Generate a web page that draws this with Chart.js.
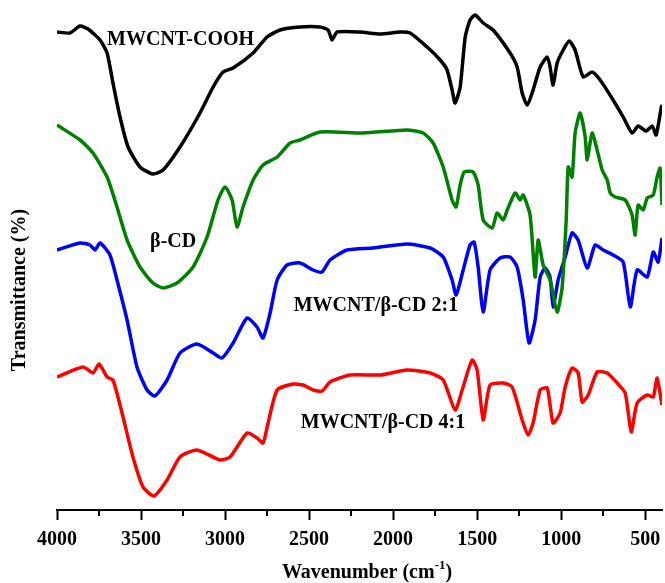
<!DOCTYPE html>
<html lang="en">
<head>
    <meta charset="UTF-8">
    <title>FTIR spectra</title>
    <script src="https://cdn.jsdelivr.net/npm/chart.js"></script>
    <style>
        html, body { margin: 0; padding: 0; background: #fff; }
        canvas { display: block; }
    </style>
</head>
<body>
    <canvas id="ftirChart" width="665" height="583"></canvas>
    <script>
        // wavenumbers (cm-1) and transmittance (arbitrary, offset) per sample
        const coohWn = [4000, 3923, 3863, 3815, 3744, 3702, 3667, 3625, 3577, 3506, 3429, 3369, 3268, 3149, 3071, 3012, 2952, 2833, 2750, 2673, 2554, 2435, 2387, 2363, 2333, 2196, 2077, 1958, 1899, 1798, 1720, 1679, 1649, 1631, 1601, 1571, 1542, 1512, 1464, 1405, 1304, 1262, 1232, 1202, 1167, 1125, 1083, 1066, 1048, 1024, 988, 952, 917, 869, 816, 768, 691, 631, 578, 542, 494, 458, 435, 405, 400];
        const coohT = [95.6, 95.4, 96.8, 96.2, 94, 91.4, 85.4, 78.6, 72.6, 68.6, 67.2, 68, 72.6, 79.4, 84.6, 87.6, 88.4, 91.4, 94.6, 96, 96.6, 96.6, 96, 94, 95.6, 95.6, 95.2, 95.6, 95.4, 92.6, 90, 88, 84, 81.4, 84.6, 94.6, 98, 99, 97.4, 96, 91.4, 88.6, 83.4, 81, 84, 88.6, 90.6, 88.6, 85, 89.4, 92, 93.8, 92, 86.6, 87.6, 86, 82, 78.6, 75.4, 76.8, 75.8, 76.8, 75, 80.4, 81];

        const cdWn = [4000, 3863, 3786, 3702, 3643, 3583, 3506, 3429, 3369, 3286, 3190, 3107, 3042, 3000, 2958, 2929, 2893, 2833, 2774, 2690, 2613, 2554, 2435, 2179, 1917, 1821, 1762, 1702, 1649, 1625, 1601, 1577, 1524, 1494, 1464, 1411, 1381, 1345, 1321, 1274, 1244, 1226, 1185, 1155, 1137, 1107, 1066, 1024, 994, 970, 958, 935, 917, 887, 857, 845, 816, 786, 756, 726, 708, 679, 619, 578, 560, 542, 512, 488, 452, 429, 411, 400];
        const cdT = [77, 74, 71.4, 66.6, 60.6, 54, 48.6, 45.4, 44.4, 45.4, 48.6, 54.6, 62, 64.6, 62, 56.6, 60.6, 66, 69, 70.6, 73.4, 74, 75.6, 75.4, 76, 75.4, 73.4, 68.6, 62, 60.6, 65, 67.6, 67.6, 65, 58, 56.4, 59.4, 58, 60, 63.4, 62, 63, 59, 46.6, 54, 49, 46, 39.6, 44.6, 58, 68.6, 66.6, 75.4, 79.4, 74.6, 70, 75.4, 72, 68, 66, 63.4, 62.6, 62, 59, 55, 61, 60, 62.4, 63, 66.6, 68.4, 61];

        const mix21Wn = [4000, 3863, 3804, 3774, 3744, 3685, 3643, 3583, 3524, 3464, 3417, 3345, 3268, 3167, 3071, 3018, 2952, 2869, 2810, 2774, 2732, 2690, 2631, 2554, 2476, 2423, 2375, 2274, 2119, 1917, 1780, 1702, 1649, 1625, 1583, 1542, 1518, 1494, 1464, 1423, 1363, 1304, 1262, 1226, 1191, 1155, 1125, 1095, 1066, 1048, 1018, 976, 935, 899, 845, 798, 750, 691, 631, 589, 548, 488, 452, 423, 400];
        const mix21T = [52, 53.4, 53, 52, 53.4, 51, 46, 38, 28.6, 24, 22.8, 26, 31.4, 33.2, 31.4, 30.4, 33.4, 38.4, 36.6, 34.4, 39.4, 46, 49, 49.4, 48, 47.6, 50, 52, 52.4, 53.2, 52.4, 50.6, 46, 43, 48, 53, 53.6, 48.6, 39.6, 48, 50.4, 50.6, 48.6, 42, 33.4, 38, 46.6, 48.4, 46.6, 40.6, 46, 50.6, 55.4, 54, 48.4, 53, 52, 51, 49.6, 40.6, 48, 46.6, 51.6, 49.6, 54.4];

        const mix41Wn = [4000, 3845, 3786, 3750, 3702, 3667, 3613, 3548, 3488, 3423, 3345, 3268, 3167, 3030, 2970, 2869, 2810, 2774, 2744, 2690, 2595, 2536, 2476, 2423, 2375, 2256, 2077, 1917, 1780, 1702, 1631, 1589, 1530, 1500, 1464, 1423, 1345, 1292, 1232, 1197, 1167, 1125, 1083, 1048, 1006, 976, 935, 899, 875, 839, 786, 726, 667, 619, 583, 548, 488, 452, 429, 400];
        const mix41T = [26.6, 28.6, 27.4, 29.2, 26.6, 26, 19.4, 10.6, 4.6, 2.8, 6, 10.6, 12, 10, 10.6, 15.4, 14.4, 13.4, 17.4, 24, 25.2, 25, 24, 23.8, 25.6, 27, 27, 28, 27.4, 26, 20, 24, 30, 28, 18, 25, 25.4, 24.6, 18, 15, 17.4, 24, 24.4, 17.4, 19.4, 24.6, 28.4, 27.4, 21.6, 23, 27.6, 27.4, 25.4, 23.4, 15.6, 21.4, 23, 22.6, 26.4, 21];

        const xTicks = [4000, 3500, 3000, 2500, 2000, 1500, 1000, 500];
        const xMinorTicks = [3750, 3250, 2750, 2250, 1750, 1250, 750];

        // curve labels: [text, wavenumber, value, align]
        const curveLabels = [
            ['MWCNT-COOH', 3702, 94, 'left'],
            ['\u03B2-CD', 3446, 53.6, 'left'],
            ['MWCNT/\u03B2-CD 2:1', 1613, 40.8, 'right'],
            ['MWCNT/\u03B2-CD 4:1', 1571, 17.4, 'right']
        ];

        const serif = '"Liberation Serif", "Times New Roman", serif';

        function pts(wn, t) {
            return wn.map((w, i) => ({ x: w, y: t[i] }));
        }

        const extras = {
            id: 'extras',
            afterDraw(chart) {
                const ctx = chart.ctx;
                const xs = chart.scales.x;
                const ys = chart.scales.y;
                const bottom = chart.chartArea.bottom;
                ctx.save();
                // minor ticks
                ctx.strokeStyle = '#000';
                ctx.lineWidth = 2;
                xMinorTicks.forEach(v => {
                    const px = Math.round(xs.getPixelForValue(v));
                    ctx.beginPath();
                    ctx.moveTo(px, bottom);
                    ctx.lineTo(px, bottom + 6);
                    ctx.stroke();
                });
                ctx.fillStyle = '#000';
                // curve labels
                ctx.font = 'bold 20px ' + serif;
                ctx.textBaseline = 'middle';
                curveLabels.forEach(l => {
                    ctx.textAlign = l[3];
                    ctx.fillText(l[0], xs.getPixelForValue(l[1]), ys.getPixelForValue(l[2]));
                });
                // x title with superscript
                const main = 'Wavenumber (cm';
                const sup = '-1';
                const tail = ')';
                ctx.font = 'bold 20px ' + serif;
                const w1 = ctx.measureText(main).width;
                const w3 = ctx.measureText(tail).width;
                ctx.font = 'bold 13px ' + serif;
                const w2 = ctx.measureText(sup).width;
                let x0 = 367 - (w1 + w2 + w3) / 2;
                const ty = 573;
                ctx.textAlign = 'left';
                ctx.font = 'bold 20px ' + serif;
                ctx.fillText(main, x0, ty);
                ctx.font = 'bold 13px ' + serif;
                ctx.fillText(sup, x0 + w1, ty - 7);
                ctx.font = 'bold 20px ' + serif;
                ctx.fillText(tail, x0 + w1 + w2, ty);
                // y title
                ctx.translate(20, 290);
                ctx.rotate(-Math.PI / 2);
                ctx.textAlign = 'center';
                ctx.fillText('Transmittance (%)', 0, 0);
                ctx.restore();
            }
        };

        const ds = (label, wn, t, color) => ({
            label: label,
            data: pts(wn, t),
            borderColor: color,
            borderWidth: 3.5,
            pointRadius: 0,
            tension: 0.2,
            fill: false
        });

        new Chart(document.getElementById('ftirChart'), {
            type: 'line',
            data: {
                datasets: [
                    ds('MWCNT-COOH', coohWn, coohT, '#000000'),
                    ds('\u03B2-CD', cdWn, cdT, '#008000'),
                    ds('MWCNT/\u03B2-CD 2:1', mix21Wn, mix21T, '#0000ff'),
                    ds('MWCNT/\u03B2-CD 4:1', mix41Wn, mix41T, '#ff0000')
                ]
            },
            options: {
                responsive: false,
                animation: false,
                devicePixelRatio: 1,
                layout: { padding: { left: 57, right: 3, top: 10, bottom: 0 } },
                plugins: {
                    legend: { display: false },
                    tooltip: { enabled: false }
                },
                scales: {
                    x: {
                        type: 'linear',
                        reverse: true,
                        min: 400,
                        max: 4000,
                        afterBuildTicks: s => { s.ticks = xTicks.map(v => ({ value: v })); },
                        afterFit: s => {
                            s.height = 73;
                            s.paddingLeft = 0;
                            s.paddingRight = 0;
                        },
                        border: { display: true, color: '#000', width: 2 },
                        grid: {
                            drawOnChartArea: false,
                            drawTicks: true,
                            tickLength: 10,
                            tickWidth: 2,
                            tickColor: '#000'
                        },
                        ticks: {
                            color: '#000',
                            padding: 8,
                            maxRotation: 0,
                            autoSkip: false,
                            font: { family: serif, size: 20, weight: 'bold' },
                            callback: v => String(v)
                        }
                    },
                    y: {
                        display: false,
                        min: 0,
                        max: 100
                    }
                }
            },
            plugins: [extras]
        });
    </script>
</body>
</html>
